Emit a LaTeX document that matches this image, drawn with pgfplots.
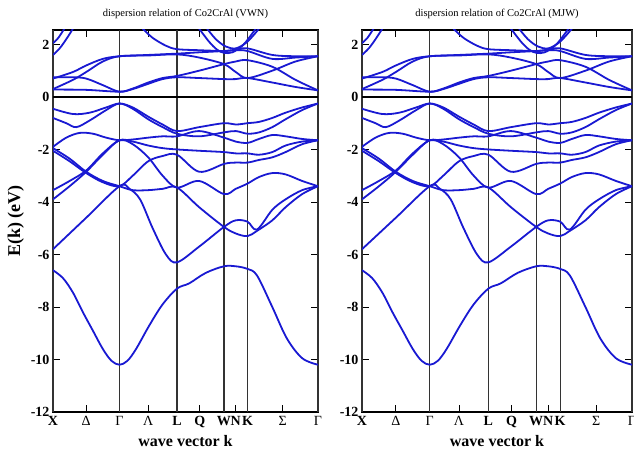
\documentclass[border=0pt]{standalone}
\usepackage{fontspec}
\setmainfont{Liberation Serif}
\usepackage{pgfplots}
\pgfplotsset{compat=1.18}
\definecolor{bandblue}{RGB}{25,25,210}
\pgfplotscreateplotcyclelist{bandlist}{bandblue,solid,line width=1.8pt,smooth,tension=0.55,mark=none\\}

% band data (k in units of 2pi/a along X-Gamma-L-W-K-Gamma; E in eV)
\newcommand{\bands}{%
% valence
\addplot coordinates {(0,-6.6)(0.15,-6.9)(0.3,-7.45)(0.45,-8.2)(0.6,-8.9)(0.75,-9.6)(0.88,-10.05)(1,-10.2)(1.12,-10.05)(1.25,-9.6)(1.45,-8.7)(1.65,-7.9)(1.866,-7.3)(2.05,-7.1)(2.3,-6.7)(2.573,-6.45)(2.75,-6.45)(2.927,-6.55)(3.07,-6.8)(3.3,-8.0)(3.52,-9.2)(3.75,-9.95)(3.988,-10.2)};
\addplot coordinates {(0,-5.8)(0.5,-4.6)(1,-3.4)(1.15,-3.5)(1.31,-3.9)(1.5,-5.0)(1.7,-6.0)(1.866,-6.3)(2.2,-5.7)(2.573,-4.95)(2.75,-4.7)(2.927,-4.75)(3.07,-5.05)(3.3,-4.3)(3.5,-3.9)(3.75,-3.55)(3.988,-3.4)};
\addplot coordinates {(0,-1.95)(0.25,-2.35)(0.5,-2.85)(0.75,-3.2)(1,-3.4)(1.2,-3.55)(1.433,-3.55)(1.65,-3.5)(1.866,-3.45)(2.2,-4.2)(2.573,-4.95)(2.75,-5.2)(2.927,-5.3)(3.07,-5.1)(3.3,-4.7)(3.5,-4.2)(3.75,-3.7)(3.988,-3.4)};
\addplot coordinates {(0,-2.05)(0.25,-2.45)(0.5,-2.9)(0.75,-3.25)(1,-3.4)(1.2,-3.0)(1.433,-2.45)(1.65,-2.25)(1.866,-2.2)(2.2,-2.85)(2.573,-2.55)(2.75,-2.5)(2.927,-2.5)(3.1,-2.4)(3.3,-2.3)(3.5,-2.1)(3.75,-1.8)(3.988,-1.65)};
\addplot coordinates {(0,-3.9)(0.25,-3.4)(0.5,-2.85)(0.75,-2.2)(1,-1.65)(1.2,-1.8)(1.433,-2.3)(1.65,-3.0)(1.866,-3.45)(2.2,-3.2)(2.573,-3.7)(2.75,-3.5)(2.927,-3.3)(3.1,-3.05)(3.3,-2.9)(3.5,-2.95)(3.75,-3.2)(3.988,-3.4)};
\addplot coordinates {(0,-3.55)(0.25,-3.2)(0.5,-2.8)(0.75,-2.15)(1,-1.65)(1.2,-1.7)(1.433,-1.85)(1.65,-1.95)(1.866,-2.0)(2.2,-2.05)(2.573,-2.1)(2.75,-2.15)(2.927,-2.15)(3.1,-2.2)(3.3,-2.1)(3.5,-1.85)(3.75,-1.7)(3.988,-1.65)};
\addplot coordinates {(0,-1.9)(0.2,-1.55)(0.4,-1.37)(0.6,-1.4)(0.8,-1.55)(1,-1.65)(1.2,-1.62)(1.433,-1.55)(1.65,-1.5)(1.866,-1.5)(2.2,-1.3)(2.573,-1.55)(2.75,-1.7)(2.927,-1.75)(3.1,-1.6)(3.3,-1.45)(3.5,-1.5)(3.75,-1.6)(3.988,-1.65)};
\addplot coordinates {(0,-0.8)(0.2,-1.0)(0.35,-1.15)(0.55,-0.9)(0.8,-0.5)(1,-0.25)(1.2,-0.45)(1.433,-0.85)(1.65,-1.15)(1.866,-1.4)(2.2,-1.5)(2.573,-1.35)(2.75,-1.3)(2.927,-1.4)(3.1,-1.35)(3.3,-1.15)(3.5,-0.85)(3.75,-0.5)(3.988,-0.25)};
\addplot coordinates {(0,-0.45)(0.3,-0.65)(0.55,-0.6)(0.8,-0.4)(1,-0.25)(1.2,-0.4)(1.433,-0.75)(1.65,-1.05)(1.866,-1.3)(2.2,-1.15)(2.573,-1.0)(2.75,-1.05)(2.927,-1.0)(3.1,-0.95)(3.3,-0.8)(3.5,-0.6)(3.75,-0.4)(3.988,-0.25)};
% conduction
\addplot coordinates {(0,0.28)(0.5,0.27)(1,0.2)(1.2,0.3)(1.433,0.5)(1.65,0.68)(1.866,0.75)(2.2,0.72)(2.573,0.68)(2.75,0.68)(2.927,0.72)(3.3,0.55)(3.65,0.38)(3.988,0.25)};
\addplot coordinates {(0,0.75)(0.3,0.75)(0.5,0.7)(0.75,0.45)(1,0.2)(1.2,0.32)(1.433,0.55)(1.65,0.72)(1.866,0.8)(2.2,1.0)(2.573,1.25)(2.75,1.35)(2.927,1.4)(3.3,1.15)(3.65,0.65)(3.988,0.25)};
\addplot coordinates {(0,0.3)(0.3,0.65)(0.5,0.95)(0.75,1.35)(1,1.55)(1.433,1.58)(1.866,1.62)(2.2,1.5)(2.573,1.25)(2.75,0.95)(2.927,0.72)(3.3,1.0)(3.65,1.35)(3.988,1.55)};
\addplot coordinates {(0,0.7)(0.3,0.95)(0.5,1.2)(0.75,1.45)(1,1.55)(1.433,1.6)(1.866,1.65)(2.2,1.7)(2.573,1.75)(2.75,1.8)(2.927,1.85)(3.3,1.6)(3.65,1.55)(3.988,1.55)};
\addplot coordinates {(1.35,2.6)(1.5,2.25)(1.7,1.95)(1.866,1.82)(2.2,1.78)(2.573,1.75)(2.75,1.78)(2.927,1.75)(3.3,1.45)(3.65,1.5)(3.988,1.55)};
\addplot coordinates {(0,1.6)(0.1,1.85)(0.2,2.2)(0.3,2.6)};
\addplot coordinates {(0,2.05)(0.08,2.25)(0.17,2.6)};
\addplot coordinates {(2.2,2.6)(2.35,2.1)(2.47,1.8)(2.573,1.68)(2.7,1.7)(2.85,1.95)(2.95,2.25)(3.05,2.6)};
\addplot coordinates {(2.32,2.6)(2.45,2.2)(2.6,1.92)(2.75,1.85)(2.9,2.05)(3.0,2.3)(3.1,2.6)};
% Fermi level
\addplot[black, line width=1.4pt, sharp plot] coordinates {(0,0)(3.988,0)};
}

\pgfplotsset{bandaxis/.style={
  scale only axis, height=382pt,
  xmin=0, xmax=3.988, ymin=-12, ymax=2.55,
  ytick={-12,-10,-8,-6,-4,-2,0,2},
  yticklabels={-12,-10,-8,-6,-4,-2,0,2},
  xtick={0.5,1.433,2.21,2.75,3.458},
  xticklabels={\mdseries Δ,\mdseries Λ,Q,N,\mdseries Σ},
  extra x ticks={0,1,1.866,2.573,2.927,3.988},
  extra x tick labels={X,\mdseries Γ,L,W,K,\mdseries Γ},
  extra x tick style={grid=major, major tick length=0pt},
  major grid style={black!80, line width=1.2pt},
  tick style={black, line width=0.8pt}, major tick length=7pt,
  axis line style={line width=1.5pt},
  ticklabel style={font=\fontsize{14}{14}\selectfont\bfseries},
  xticklabel style={text height=9pt, text depth=0pt, inner sep=1pt, yshift=-3pt},
  xlabel={wave vector k},
  xlabel style={font=\fontsize{16}{16}\selectfont\bfseries, yshift=-6pt},
  title style={font=\fontsize{10.5}{12}\selectfont, yshift=2pt},
  cycle list name=bandlist,
}}

\begin{document}
\begin{tikzpicture}
\path[use as bounding box] (0,0) rectangle (634pt,471pt);
\begin{axis}[bandaxis, at={(53pt,59pt)}, anchor=south west, width=265pt,
  title={dispersion relation of Co2CrAl (VWN)},
  ylabel={E(k) (eV)},
  ylabel style={font=\fontsize{18}{18}\selectfont\bfseries}]
\bands
\end{axis}
\begin{axis}[bandaxis, at={(362pt,59pt)}, anchor=south west, width=270pt,
  title={dispersion relation of Co2CrAl (MJW)}]
\bands
\end{axis}
\end{tikzpicture}
\end{document}
